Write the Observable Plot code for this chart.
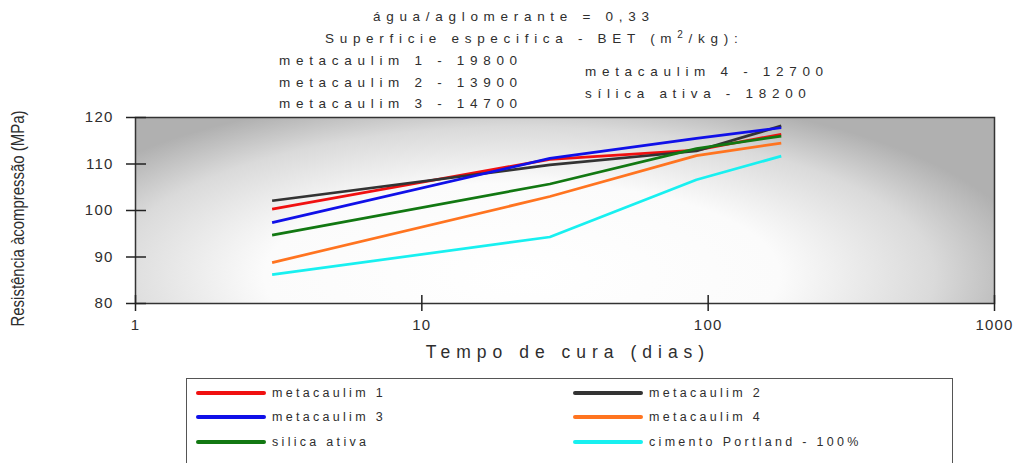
<!DOCTYPE html>
<html>
<head>
<meta charset="utf-8">
<script src="https://cdn.jsdelivr.net/npm/d3@7"></script>
<script src="https://cdn.jsdelivr.net/npm/@observablehq/plot@0.6"></script>
<style>
  html, body { margin: 0; padding: 0; background: #fff; overflow: hidden; }
  #page { position: relative; width: 1032px; height: 463px; overflow: hidden; font-family: "Liberation Sans", Arial, sans-serif; color: #333; }
  .hdr { position: absolute; font-size: 13.5px; line-height: 16px; letter-spacing: 5.7px; white-space: nowrap; color: #2e2e2e; }
  .hdr sup { font-size: 10px; line-height: 0; vertical-align: 5px; }
  #chart { position: absolute; left: 0; top: 110px; }
  #legend { position: absolute; left: 186px; top: 378px; width: 767px; height: 110px; border: 1.5px solid #555; box-sizing: border-box; }
  .lg { position: absolute; display: flex; align-items: center; font-size: 12.5px; letter-spacing: 3.3px; color: #2e2e2e; white-space: nowrap; }
  .sw { width: 70px; height: 4px; border-radius: 2px; margin-right: 6px; }
</style>
</head>
<body>
<div id="page">
  <div id="header"></div>
  <div id="chart"></div>
  <div id="legend"></div>
</div>
<script>
// ---- data ----
const days = [3, 28, 91, 180];
const seriesNames = ["metacaulim 1", "metacaulim 2", "metacaulim 3", "metacaulim 4", "silica ativa", "cimento Portland - 100%"];
const seriesColors = ["#f01010", "#333333", "#1010e8", "#ff7420", "#127812", "#18f0f0"];
const metacaulim1 = [100.3, 111.0, 113.0, 116.4];
const metacaulim2 = [102.1, 109.8, 112.8, 118.2];
const metacaulim3 = [97.4, 111.2, 115.5, 117.8];
const metacaulim4 = [88.8, 103.0, 111.8, 114.5];
const silicaAtiva = [94.7, 105.7, 113.3, 116.0];
const cimentoPortland = [86.2, 94.3, 106.6, 111.7];
const xTicks = [1, 10, 100, 1000];
const yTicks = [80, 90, 100, 110, 120];
const titleLine1 = "água/aglomerante = 0,33";
const titleLine2 = "Superficie especifica - BET (m<sup>2</sup>/kg):";
const betLeft = ["metacaulim 1 - 19800", "metacaulim 2 - 13900", "metacaulim 3 - 14700"];
const betRight = ["metacaulim 4 - 12700", "sílica ativa - 18200"];
const xLabel = "Tempo de cura (dias)";
const yLabel = "Resistência àcompressão (MPa)";

const allValues = [metacaulim1, metacaulim2, metacaulim3, metacaulim4, silicaAtiva, cimentoPortland];
const rows = [];
seriesNames.forEach((s, i) => days.forEach((d, j) => rows.push({series: s, day: d, value: allValues[i][j]})));

// ---- header ----
const header = document.getElementById("header");
function addHdr(html, left, cy) {
  const el = document.createElement("div");
  el.className = "hdr";
  el.innerHTML = html;
  el.style.left = left + "px";
  el.style.top = (cy - 8) + "px";
  header.appendChild(el);
}
addHdr(titleLine1, 373, 17);
addHdr(titleLine2, 325, 39);
betLeft.forEach((t, i) => addHdr(t, 279, [61, 83, 104][i]));
betRight.forEach((t, i) => addHdr(t, 585, [72, 94][i]));

// ---- chart ----
const bgDefs = () => {
  const defs = d3.create("svg:defs");
  const g = defs.append("radialGradient").attr("id", "bg")
    .attr("cx", 0.45).attr("cy", 0.85).attr("r", 1)
    .attr("gradientTransform", "translate(0.45 0.85) scale(0.6 1) translate(-0.45 -0.85)");
  g.append("stop").attr("offset", 0).attr("stop-color", "#ffffff");
  g.append("stop").attr("offset", 0.5).attr("stop-color", "#fbfbfb");
  g.append("stop").attr("offset", 0.8).attr("stop-color", "#dadada");
  g.append("stop").attr("offset", 1).attr("stop-color", "#b0b0b0");
  return defs.node();
};

const chart = Plot.plot({
  width: 1032,
  height: 260,
  marginLeft: 135,
  marginRight: 38,
  marginTop: 7,
  marginBottom: 67,
  x: {type: "log", domain: [1, 1000]},
  y: {domain: [80, 120]},
  color: {domain: seriesNames, range: seriesColors},
  style: {fontFamily: "'Liberation Sans', Arial, sans-serif", fontSize: "15px", color: "#2e2e2e", background: "transparent", overflow: "visible"},
  marks: [
    bgDefs,
    Plot.frame({fill: "url(#bg)", stroke: null}),
    Plot.line(rows, {x: "day", y: "value", z: "series", stroke: "series", strokeWidth: 2.7, strokeLinecap: "butt"}),
    Plot.frame({stroke: "#333", strokeWidth: 1.5}),
    Plot.tickX(xTicks, {x: d => d, insetTop: 178, stroke: "#222", strokeWidth: 1.5}),
    Plot.tickY(yTicks, {y: d => d, insetRight: 848, stroke: "#222", strokeWidth: 1.5}),
    Plot.axisX({ticks: xTicks, tickSize: 8, tickPadding: 8, tickFormat: d => String(d), label: null, strokeWidth: 1.5, stroke: "#222"}),
    Plot.axisY({ticks: yTicks, tickSize: 9, tickPadding: 13, label: null, strokeWidth: 1.5, stroke: "#222"}),
    Plot.text([xLabel], {frameAnchor: "bottom", dy: 54, dx: 3, fontSize: 17.5, fill: "#2e2e2e"}),
    Plot.text([yLabel], {frameAnchor: "left", rotate: -90, dx: -117, dy: 116, fontSize: 18, fill: "#2e2e2e"})
  ]
});
document.getElementById("chart").appendChild(chart);

// text styling touches
const svgSel = d3.select(chart);
svgSel.selectAll("text").filter(function() { return this.textContent === xLabel; })
  .style("letter-spacing", "6px");
svgSel.selectAll("text").filter(function() { return this.textContent === yLabel; })
  .attr("text-anchor", "start")
  .attr("textLength", 216).attr("lengthAdjust", "spacingAndGlyphs");
svgSel.selectAll('g[aria-label="x-axis tick label"] text, g[aria-label="y-axis tick label"] text')
  .style("letter-spacing", "1.2px");

// ---- legend ----
const legend = document.getElementById("legend");
seriesNames.forEach((s, i) => {
  const col = i % 2, row = Math.floor(i / 2);
  const el = document.createElement("div");
  el.className = "lg";
  el.style.left = (col === 0 ? 195 - 186 : 572 - 186) + "px";
  el.style.top = ([392, 416, 441][row] - 378 - 8) + "px";
  el.style.height = "16px";
  el.innerHTML = `<div class="sw" style="background:${seriesColors[i]}"></div><span>${s}</span>`;
  legend.appendChild(el);
});
</script>
</body>
</html>
